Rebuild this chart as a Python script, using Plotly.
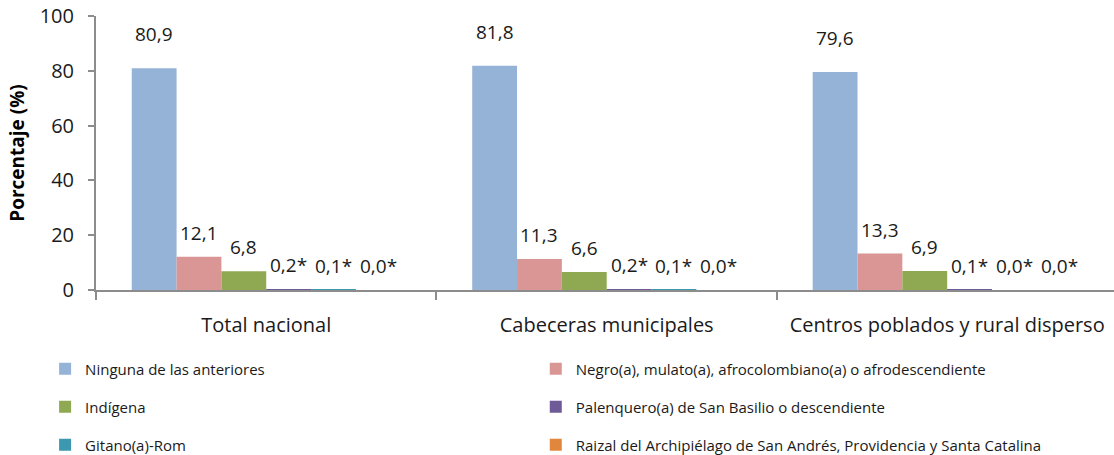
import plotly.graph_objects as go

# Categories and series values (%)
categories = ["Total nacional", "Cabeceras municipales", "Centros poblados y rural disperso"]
series_names = [
    "Ninguna de las anteriores",
    "Negro(a), mulato(a), afrocolombiano(a) o afrodescendiente",
    "Indígena",
    "Palenquero(a) de San Basilio o descendiente",
    "Gitano(a)-Rom",
    "Raizal del Archipiélago de San Andrés, Providencia y Santa Catalina",
]
ninguna = [80.9, 81.8, 79.6]
negro = [12.1, 11.3, 13.3]
indigena = [6.8, 6.6, 6.9]
palenquero = [0.2, 0.2, 0.1]
gitano = [0.1, 0.1, 0.0]
raizal = [0.0, 0.0, 0.0]
# Values flagged with an asterisk (low precision estimates)
flagged = [False, False, False, True, True, True]

series_values = [ninguna, negro, indigena, palenquero, gitano, raizal]
colors = ["#95B3D7", "#D99694", "#8FA852", "#6E5A96", "#3C98AE", "#E0873D"]

# Legend laid out as a 2-column grid: one single-entry legend per cell
legend_ids = ["legend", "legend2", "legend3", "legend4", "legend5", "legend6"]
col_x = [-0.05, 0.432]
row_y = [-0.288, -0.427, -0.566]

fig = go.Figure()
for name, vals, col, lg in zip(series_names, series_values, colors, legend_ids):
    fig.add_trace(go.Bar(
        x=categories, y=vals, name=name,
        marker=dict(color=col, line=dict(width=0)),
        legend=lg,
    ))

# Value labels above each bar
n = len(series_values)
group_w = 1 - 0.21
bar_w = group_w / n
for i, (vals, flag) in enumerate(zip(series_values, flagged)):
    for j, v in enumerate(vals):
        txt = f"{v:.1f}".replace(".", ",") + ("*" if flag else "")
        xpos = j - group_w / 2 + bar_w * (i + 0.5)
        fig.add_annotation(
            x=xpos, y=v, xref="x", yref="y", text=txt, showarrow=False,
            yanchor="middle", yshift=34 if i == 0 else 24,
            font=dict(family="Open Sans", size=19, color="#1a1a1a"),
        )

legend_common = dict(
    orientation="h", xanchor="left", yanchor="middle",
    font=dict(family="Open Sans", size=15, color="#1a1a1a"),
    bgcolor="rgba(0,0,0,0)",
)
legend_layout = {}
for k, lg in enumerate(legend_ids):
    legend_layout[lg] = dict(x=col_x[k % 2], y=row_y[k // 2], **legend_common)

fig.update_layout(
    width=1114, height=455,
    margin=dict(l=96, r=0, t=16, b=165, autoexpand=False),
    paper_bgcolor="white", plot_bgcolor="white",
    barmode="group", bargap=0.21, bargroupgap=0,
    showlegend=True,
    font=dict(family="Open Sans", color="#1a1a1a"),
    **legend_layout,
)

fig.update_xaxes(
    type="category", range=[-0.5, 2.49],
    showline=True, linecolor="#8C8C8C", linewidth=2,
    ticks="outside", tickson="boundaries", ticklen=8, tickcolor="#8C8C8C", tickwidth=2,
    ticklabelstandoff=16,
    tickfont=dict(family="Open Sans", size=20, color="#1a1a1a"),
    showgrid=False, zeroline=False,
)
fig.update_yaxes(
    range=[0, 100], dtick=20,
    showline=True, linecolor="#8C8C8C", linewidth=2,
    ticks="outside", ticklen=6, tickcolor="#8C8C8C", tickwidth=2,
    ticklabelstandoff=10,
    tickfont=dict(family="Open Sans", size=20, color="#1a1a1a"),
    showgrid=False, zeroline=False,
    title=dict(text="<b>Porcentaje (%)</b>", font=dict(family="Open Sans", size=19, color="#000000"), standoff=10),
)

fig.write_html("out.html")
